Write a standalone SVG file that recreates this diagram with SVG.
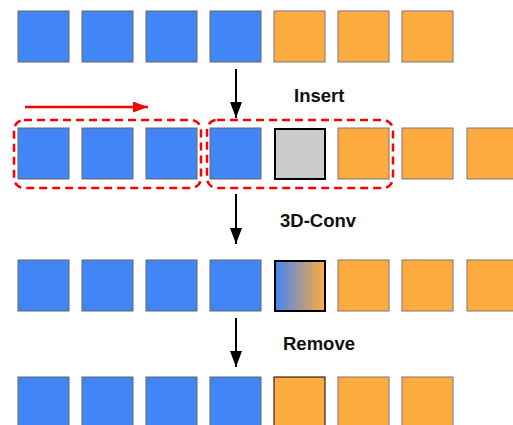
<svg xmlns="http://www.w3.org/2000/svg" width="513" height="425" viewBox="0 0 513 425">
<style>
.b{fill:#4285F4;stroke:#666;stroke-width:1}
.o{fill:#FFAB40;stroke:#777;stroke-width:1}
.g{fill:#CCCCCC;stroke:#000;stroke-width:2}
.gr{fill:url(#lg);stroke:#000;stroke-width:2}
.ob{fill:#FFAB40;stroke:#000;stroke-width:1}
.dash{fill:none;stroke:#FF0000;stroke-width:2.5;stroke-dasharray:8,5}
.lbl{font-family:"Liberation Sans",Arial,sans-serif;font-weight:bold;font-size:18.5px;fill:#111}
</style>
<defs>
<linearGradient id="lg" x1="0" y1="0" x2="1" y2="0">
<stop offset="0" stop-color="#4285F4"/>
<stop offset="1" stop-color="#FFAB40"/>
</linearGradient>
<marker id="ak" markerWidth="12" markerHeight="16" refX="6" refY="16" orient="0" markerUnits="userSpaceOnUse">
<path d="M0,0 L12,0 L6,16 z" fill="#000"/>
</marker>
<marker id="ar" markerWidth="15" markerHeight="11" refX="15" refY="5.5" orient="auto" markerUnits="userSpaceOnUse">
<path d="M0,0 L15,5.5 L0,11 z" fill="#FF0000"/>
</marker>
</defs>
<g id="row1">
<rect class="b" x="18" y="11" width="51" height="51"/>
<rect class="b" x="82" y="11" width="51" height="51"/>
<rect class="b" x="146" y="11" width="51" height="51"/>
<rect class="b" x="210" y="11" width="51" height="51"/>
<rect class="o" x="274" y="11" width="51" height="51"/>
<rect class="o" x="338" y="11" width="51" height="51"/>
<rect class="o" x="402" y="11" width="51" height="51"/>
</g>
<g id="row2">
<rect class="b" x="18" y="128" width="51" height="51"/>
<rect class="b" x="82" y="128" width="51" height="51"/>
<rect class="b" x="146" y="128" width="51" height="51"/>
<rect class="b" x="210" y="128" width="51" height="51"/>
<rect class="g" x="275" y="129" width="50" height="50"/>
<rect class="o" x="338" y="128" width="51" height="51"/>
<rect class="o" x="402" y="128" width="51" height="51"/>
<rect class="o" x="467" y="128" width="51" height="51"/>
</g>
<g id="row3">
<rect class="b" x="18" y="260" width="51" height="51"/>
<rect class="b" x="82" y="260" width="51" height="51"/>
<rect class="b" x="146" y="260" width="51" height="51"/>
<rect class="b" x="210" y="260" width="51" height="51"/>
<rect class="gr" x="275" y="261" width="50" height="50"/>
<rect class="o" x="338" y="260" width="51" height="51"/>
<rect class="o" x="402" y="260" width="51" height="51"/>
<rect class="o" x="467" y="260" width="51" height="51"/>
</g>
<g id="row4">
<rect class="b" x="18" y="377" width="51" height="51"/>
<rect class="b" x="82" y="377" width="51" height="51"/>
<rect class="b" x="146" y="377" width="51" height="51"/>
<rect class="b" x="210" y="377" width="51" height="51"/>
<rect class="ob" x="274" y="377" width="51" height="51"/>
<rect class="o" x="338" y="377" width="51" height="51"/>
<rect class="o" x="402" y="377" width="51" height="51"/>
</g>
<g id="groups">
<rect class="dash" x="14" y="120" width="187" height="68" rx="10"/>
<rect class="dash" x="207" y="120" width="186" height="68" rx="10"/>
</g>
<g id="connectors">
<line x1="236" y1="69" x2="236" y2="118" stroke="#000" stroke-width="2" marker-end="url(#ak)"/>
<line x1="236" y1="194" x2="236" y2="244" stroke="#000" stroke-width="2" marker-end="url(#ak)"/>
<line x1="236" y1="318" x2="236" y2="367" stroke="#000" stroke-width="2" marker-end="url(#ak)"/>
<line x1="25" y1="107" x2="148" y2="107" stroke="#FF0000" stroke-width="2.5" marker-end="url(#ar)"/>
</g>
<g id="labels">
<text class="lbl" x="294" y="102">Insert</text>
<text class="lbl" x="280" y="227">3D-Conv</text>
<text class="lbl" x="283" y="350">Remove</text>
</g>
</svg>
